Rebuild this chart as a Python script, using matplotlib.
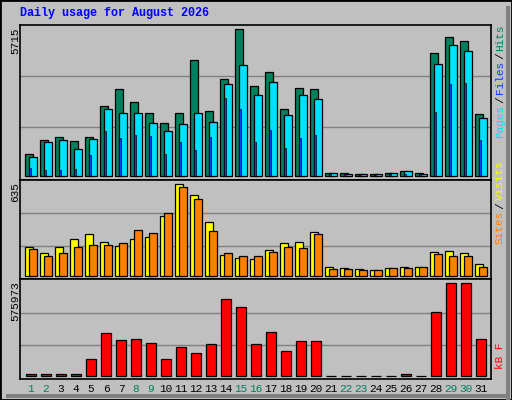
import matplotlib
matplotlib.use("Agg")
import matplotlib.pyplot as plt
from matplotlib.patches import Rectangle
import numpy as np

days = np.arange(1, 32)
hits = [855, 1400, 1516, 1360, 1516, 2720, 3380, 2880, 2450, 2060, 2450, 4510, 2530, 3770, 5715, 3500,
        4050, 2610, 3420, 3380, 120, 120, 80, 80, 120, 200, 120, 4790, 5400, 5250, 2410]
files = [740, 1320, 1400, 1050, 1440, 2600, 2450, 2450, 2060, 1750, 2020, 2450, 2100, 3580, 4320, 3150,
         3660, 2370, 3150, 3000, 120, 80, 80, 80, 120, 200, 80, 4360, 5100, 4860, 2260]
pages = [310, 230, 230, 270, 820, 1750, 1480, 1600, 1560, 860, 1320, 1010, 1520, 3030, 2600, 1320,
         1790, 1090, 1480, 1600, 60, 60, 40, 40, 60, 80, 60, 2500, 3580, 3620, 1400]
visits = [200, 159, 200, 255, 290, 235, 207, 255, 269, 414, 635, 559, 373, 143, 124, 117,
          179, 228, 235, 304, 62, 55, 48, 41, 55, 62, 62, 166, 173, 159, 83]
sites = [186, 138, 159, 200, 214, 214, 228, 318, 297, 435, 614, 531, 311, 159, 138, 138,
         166, 200, 193, 290, 48, 48, 41, 41, 55, 55, 62, 152, 138, 138, 62]
kbytes = [14700, 14700, 14700, 14700, 103000, 267000, 223000, 229000, 204000, 103000, 179000, 141000,
          198000, 475000, 425000, 198000, 273000, 153000, 217000, 217000, 1500, 1500, 1500, 1500, 1500,
          14700, 1500, 399000, 575973, 575973, 229000]
weekend = [1, 2, 8, 9, 15, 16, 22, 23, 29, 30]

W, H = 512, 400
BG = "#C0C0C0"
MONO = "Liberation Mono"

fig = plt.figure(figsize=(W / 100, H / 100), dpi=100, facecolor=BG)

def px_axes(x0, y0, x1, y1):
    # pixel box (top-left origin) -> axes
    ax = fig.add_axes([x0 / W, 1 - y1 / H, (x1 - x0) / W, (y1 - y0) / H])
    ax.set_facecolor(BG)
    for s in ax.spines.values():
        s.set_color("black")
        s.set_linewidth(1.2)
    ax.set_xticks([])
    ax.set_yticks([])
    ax.set_xlim(0, 31.4)
    return ax

def set_scale(ax, vmax, h_px, top_pad, bot_pad):
    s = vmax / (h_px - top_pad - bot_pad)
    ax.set_ylim(-bot_pad * s, vmax + top_pad * s)
    for f in (0.33, 0.68):
        ax.axhline(vmax * f, color="#808080", lw=1, zorder=0)

ax1 = px_axes(20, 25, 491, 180)
set_scale(ax1, max(hits), 155, 4, 4)
x = days - 1
ax1.bar(x + 0.33, hits, width=0.53, align="edge", color="#00805C", edgecolor="black", lw=0.9)
ax1.bar(x + 0.6, files, width=0.5, align="edge", color="#00E0FF", edgecolor="black", lw=0.9)
ax1.bar(x + 0.6, pages, width=0.13, align="edge", color="#0040FF", edgecolor="black", lw=0.5)

ax2 = px_axes(20, 180, 491, 279)
set_scale(ax2, max(visits), 99, 4, 3)
ax2.bar(x + 0.33, visits, width=0.55, align="edge", color="#FFFF00", edgecolor="black", lw=0.9)
ax2.bar(x + 0.6, sites, width=0.53, align="edge", color="#FF8000", edgecolor="black", lw=0.9)

ax3 = px_axes(20, 279, 491, 379)
set_scale(ax3, max(kbytes), 100, 4, 3)
ax3.bar(x + 0.4, kbytes, width=0.66, align="edge", color="#FF0000", edgecolor="black", lw=0.9)

# day labels
for d in days:
    fig.text((20 + (d - 1 + 0.73) * 15) / W, 1 - 389 / H, str(d), ha="center", va="center",
             fontsize=8, family=MONO, color="#00805C" if d in weekend else "black")

fig.text(20 / W, 1 - 13 / H, "Daily usage for August 2026", ha="left", va="center",
         fontsize=8.5, family=MONO, weight="bold", color="#0000FF")

# max labels on the left
for y, lab in [(27, str(max(hits))), (182, str(max(visits))), (281, str(max(kbytes)))]:
    fig.text(15 / W, 1 - y / H, lab, rotation=90, ha="center", va="top", fontsize=8, family=MONO)

# legend labels on the right, bottom-to-top
def right_label(parts, y_bottom):
    y = y_bottom
    for txt, col in parts:
        t = fig.text(500 / W, 1 - y / H, txt, rotation=90, ha="center", va="bottom",
                     fontsize=8, family=MONO, color=col)
        y -= len(txt) * 6.6 + 2

right_label([("Pages", "#00E0FF"), ("/", "black"), ("Files", "#0040FF"), ("/", "black"),
             ("Hits", "#00805C")], 138)
right_label([("Sites", "#FF8000"), ("/", "black"), ("Visits", "#FFFF00")], 244)
right_label([("kB F", "#FF0000")], 369)

# frame
fig.patches.append(Rectangle((0, 0), 1, 1, transform=fig.transFigure, fill=False,
                             edgecolor="black", lw=2))
fig.patches.append(Rectangle((1 - 6 / W, 0), 4 / W, 1 - 6 / H, transform=fig.transFigure,
                             color="#808080", lw=0))
fig.patches.append(Rectangle((6 / W, 2 / H), 1 - 8 / W, 4 / H, transform=fig.transFigure,
                             color="#808080", lw=0))

fig.savefig("out.png", dpi=100, facecolor=BG)
